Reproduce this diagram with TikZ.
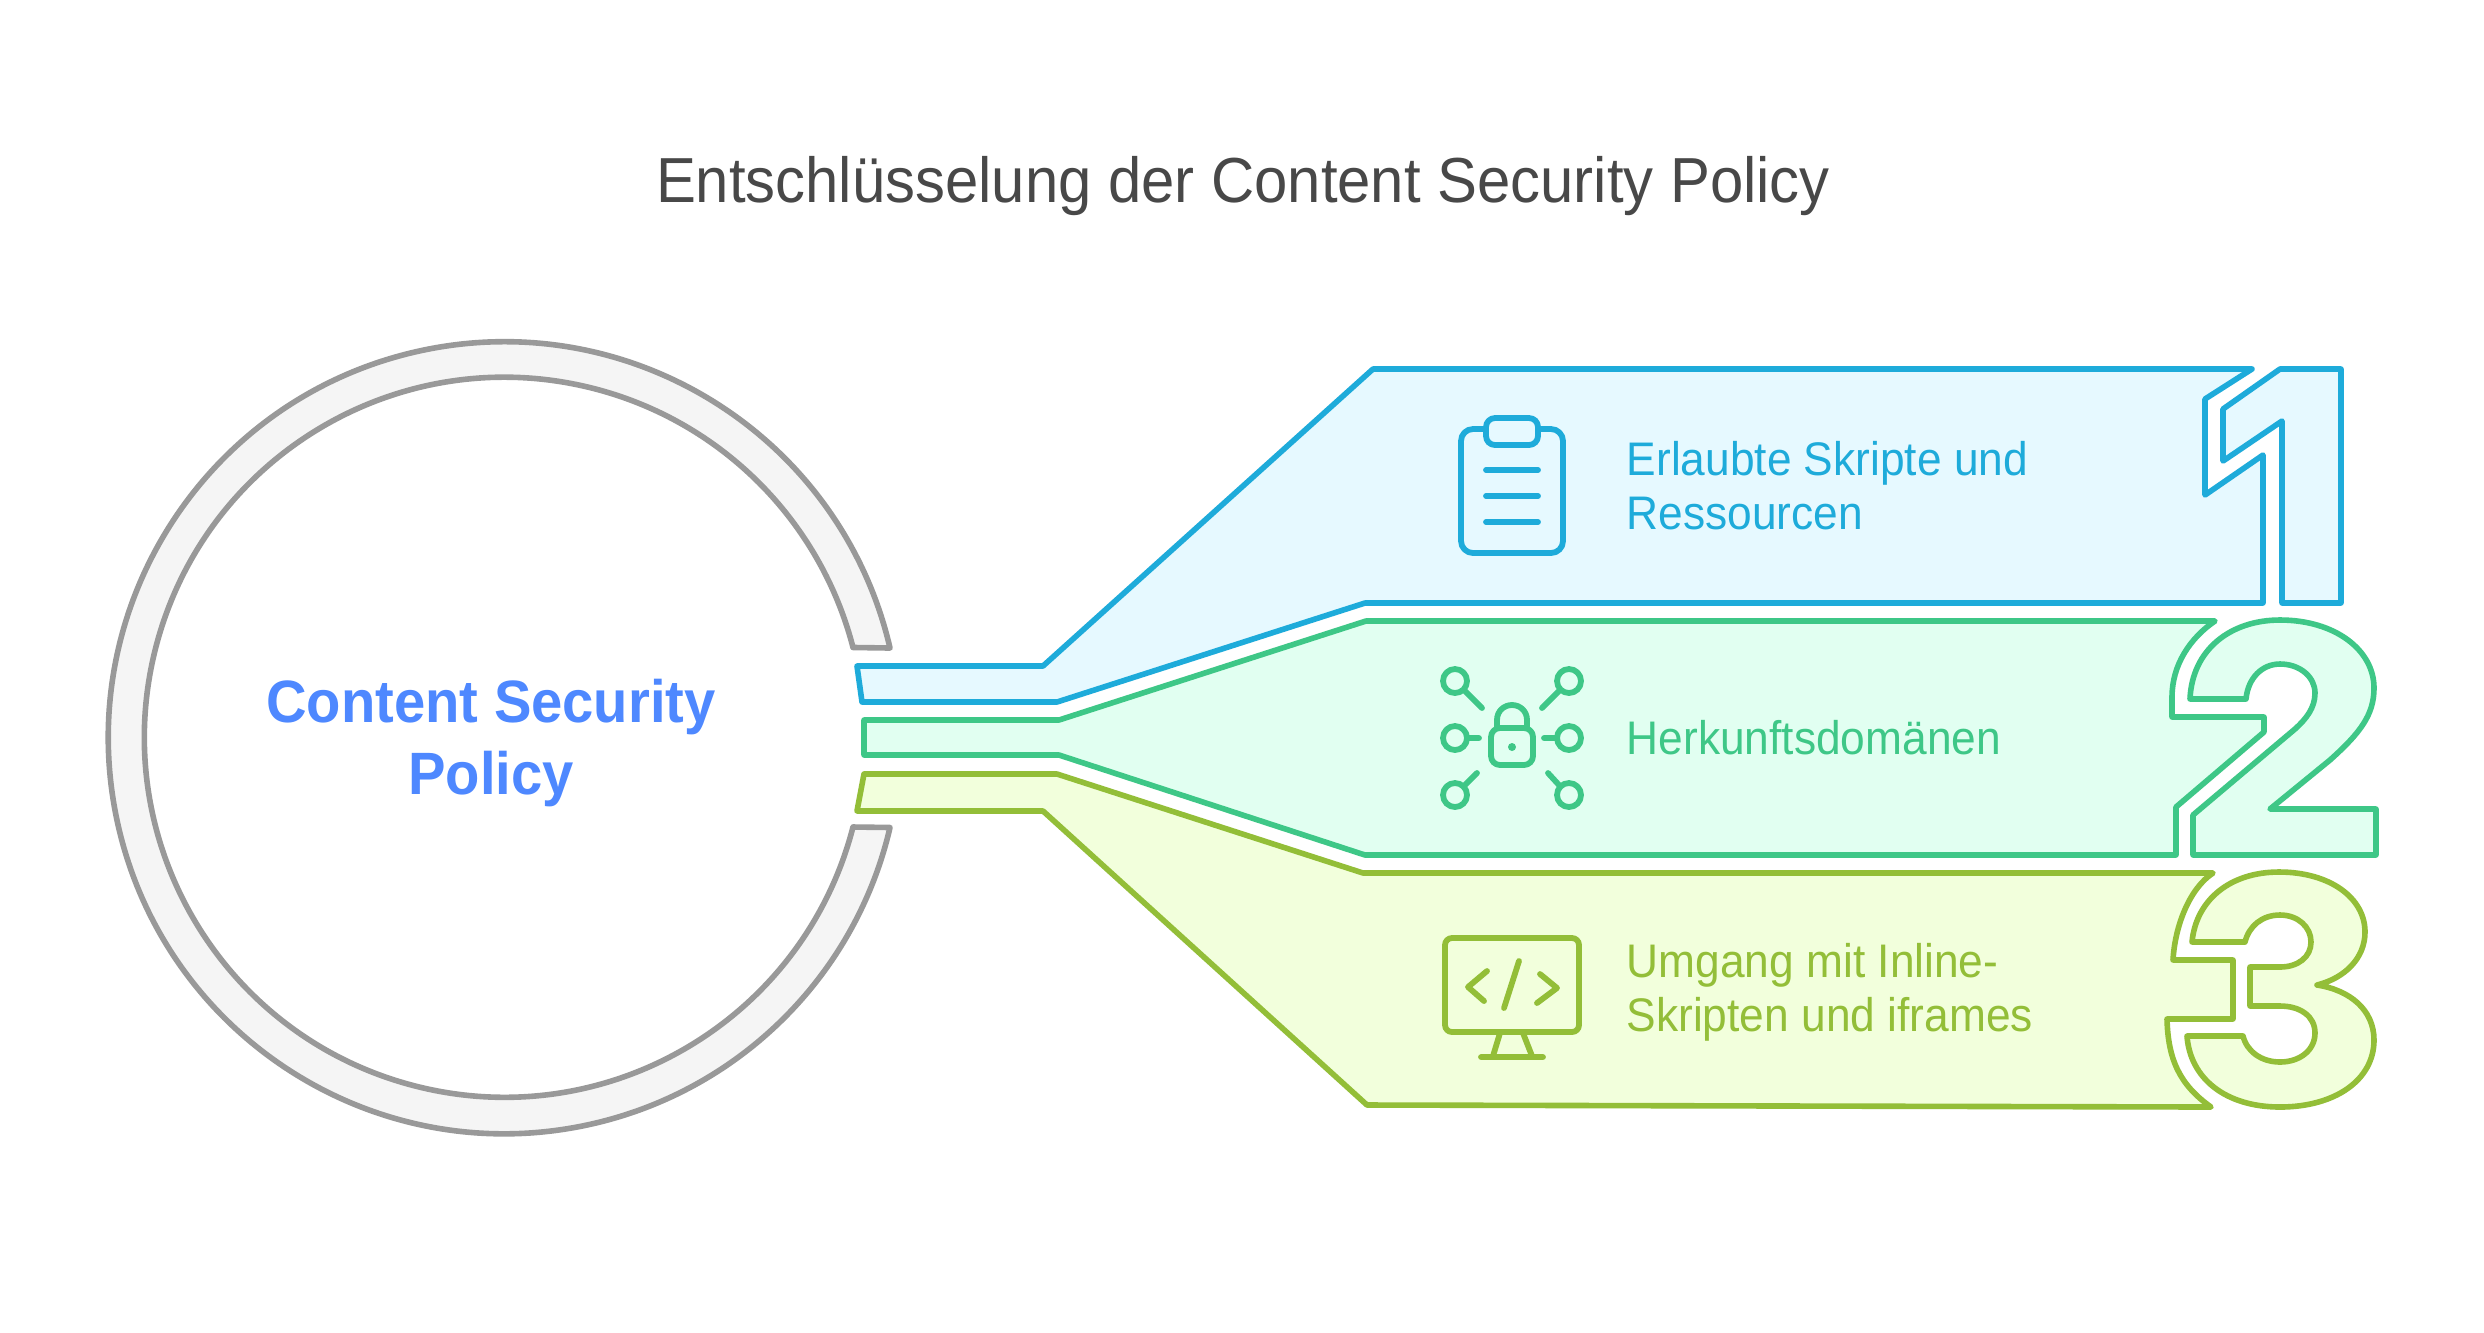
\documentclass[tikz,border=0pt]{standalone}
\usepackage{fontspec}
\setmainfont[FakeStretch=0.94]{Liberation Sans}
\definecolor{bluest}{HTML}{1EABDA}\definecolor{bluefl}{HTML}{E6F9FF}
\definecolor{grnst}{HTML}{3EC787}\definecolor{grnfl}{HTML}{E1FFF1}
\definecolor{ylwst}{HTML}{93BE38}\definecolor{ylwfl}{HTML}{F2FFDC}
\definecolor{ringst}{HTML}{999999}\definecolor{ringfl}{HTML}{F5F5F5}
\definecolor{titlec}{HTML}{484848}\definecolor{centerc}{HTML}{4E88FF}
\tikzset{
 x=0.01cm,y=-0.01cm,
 shapeline/.style={line width=0.056cm,line join=round,line cap=round},
 bluepart/.style={shapeline,draw=bluest,fill=bluefl},
 greenpart/.style={shapeline,draw=grnst,fill=grnfl},
 yellowpart/.style={shapeline,draw=ylwst,fill=ylwfl},
 ringpart/.style={shapeline,draw=ringst,fill=ringfl},
 iconline/.style={line width=0.058cm,line cap=round,line join=round},
 itemtext/.style={anchor=west,align=left,font=\fontsize{13.4}{15.4}\selectfont,inner sep=0pt},
}
\begin{document}
\begin{tikzpicture}
\useasboundingbox[fill=white] (0,0) rectangle (2484,1332);
% ring
\draw[ringpart] (890,648) arc[start angle=-13.1,end angle=-346.9,radius=396] -- (853,827) arc[start angle=-345.56,end angle=-14.44,radius=360] -- cycle;
% blue
\draw[bluepart] (857,666) -- (1043,666) -- (1373,369) -- (2252,369) -- (2205,399) -- (2205,495) -- (2263,455) -- (2263,603) -- (1365,603) -- (1057,702) -- (862,702) -- cycle;
\draw[bluepart] (2280,369) -- (2341,369) -- (2341,603) -- (2282,603) -- (2282,421) -- (2223,461) -- (2223,409) -- cycle;
% green
\draw[greenpart] (864,720) -- (1059,720) -- (1366,621) -- (2215,621) .. controls (2190,638) and (2172,665) .. (2172,697) -- (2172,717) -- (2264,717) -- (2264,732) -- (2176,807) -- (2176,855) -- (1365,855) -- (1059,755) -- (864,755) -- cycle;
\draw[greenpart] (2190,699) .. controls (2192,650) and (2230,620) .. (2280,620) .. controls (2335,620) and (2374,650) .. (2374,688) .. controls (2374,715) and (2360,733) .. (2330,760) -- (2270,809) -- (2376,809) -- (2376,855) -- (2193,855) -- (2193,815) -- (2295,729) .. controls (2306,719) and (2315,708) .. (2315,693) .. controls (2315,677) and (2300,664) .. (2280,664) .. controls (2262,664) and (2248,678) .. (2246,699) -- cycle;
% yellow
\draw[yellowpart] (864,774) -- (1057,774) -- (1363,873) -- (2213,873) .. controls (2190,888) and (2175,925) .. (2173,960) -- (2233,960) -- (2233,1019) -- (2167,1019) .. controls (2168,1060) and (2180,1085) .. (2211,1107) -- (1367,1105) -- (1043,811) -- (857,811) -- cycle;
\draw[yellowpart] (2192,942) .. controls (2196,900) and (2230,872) .. (2279,872) .. controls (2330,872) and (2365,898) .. (2365,932) .. controls (2365,958) and (2345,978) .. (2317,985) .. controls (2350,990) and (2374,1010) .. (2374,1040) .. controls (2374,1080) and (2335,1107) .. (2280,1107) .. controls (2225,1107) and (2190,1078) .. (2187,1036) -- (2243,1036) .. controls (2247,1052) and (2262,1062) .. (2280,1062) .. controls (2300,1062) and (2315,1050) .. (2315,1033) .. controls (2315,1016) and (2300,1006) .. (2280,1006) -- (2250,1006) -- (2250,967) -- (2280,967) .. controls (2298,967) and (2311,957) .. (2311,942) .. controls (2311,927) and (2298,915) .. (2280,915) .. controls (2262,915) and (2249,926) .. (2245,942) -- cycle;
% clipboard icon
\begin{scope}[iconline,draw=bluest]
\draw[rounded corners=0.12cm] (1461,429) rectangle (1563,553);
\draw[fill=bluefl,rounded corners=0.09cm] (1486,418) rectangle (1538,445);
\draw (1486,470) -- (1538,470) (1486,496) -- (1538,496) (1486,522) -- (1538,522);
\end{scope}
% lock icon
\begin{scope}[iconline,draw=grnst]
\foreach \cx/\cy in {1455/681,1569/681,1455/738,1569/738,1455/795,1569/795}{\draw (\cx,\cy) circle[radius=12];}
\draw (1465,691) -- (1482,708) (1559,691) -- (1542,708) (1468,738) -- (1479,738) (1544,738) -- (1556,738) (1465,785) -- (1477,773) (1559,785) -- (1548,773);
\draw[rounded corners=0.09cm] (1491,728) rectangle (1533,765);
\draw (1497,728) -- (1497,720) .. controls (1497,711) and (1504,705) .. (1512,705) .. controls (1520,705) and (1527,711) .. (1527,720) -- (1527,728);
\fill[grnst] (1512,747) circle[radius=4];
\end{scope}
% monitor icon
\begin{scope}[iconline,draw=ylwst]
\draw[rounded corners=0.07cm] (1445,938) rectangle (1579,1032);
\draw (1487,971) -- (1468,987) -- (1484,1001) (1540,974) -- (1557,988) -- (1537,1003) (1519,961) -- (1504,1008);
\draw (1500,1033) -- (1493,1056) (1523,1033) -- (1532,1056) (1481,1057) -- (1543,1057);
\end{scope}
% texts
\node[font=\fontsize{18.1}{21}\selectfont,text=titlec,inner sep=0pt] (title) at (1243,186) {Entschlüsselung der Content Security Policy};
\node[font=\bfseries\fontsize{17}{20.5}\selectfont,text=centerc,align=center,inner sep=0pt] (center) at (491,743) {Content Security\\Policy};
\node[itemtext,text=bluest] (item1) at (1626,485.5) {Erlaubte Skripte und\\Ressourcen};
\node[itemtext,text=grnst] (item2) at (1626,737.5) {Herkunftsdomänen};
\node[itemtext,text=ylwst] (item3) at (1626,992.5) {Umgang mit Inline-\\Skripten und iframes};
\end{tikzpicture}
\end{document}
